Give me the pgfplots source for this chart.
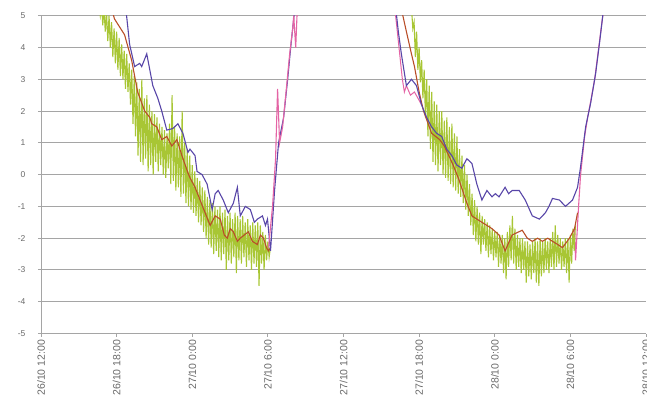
\documentclass[border=0pt]{standalone}
\usepackage{pgfplots}
\pgfplotsset{compat=1.18}
\usepackage{fontspec}
\setmainfont{Liberation Sans}
\definecolor{cblue}{RGB}{88,70,168}
\definecolor{cred}{RGB}{185,78,40}
\definecolor{cgreen}{RGB}{168,198,52}
\definecolor{cpink}{RGB}{228,100,165}
\definecolor{cgrid}{RGB}{165,165,165}
\definecolor{ctext}{RGB}{105,105,105}
\begin{document}
\begin{tikzpicture}
\begin{axis}[
  at={(0,0)}, anchor=south west, scale only axis,
  width=605pt, height=317.8pt,
  xmin=0, xmax=48, ymin=-5, ymax=5,
  axis x line*=bottom, axis y line*=left,
  axis line style={cgrid, line width=0.9pt},
  xtick={0,6,...,48},
  xticklabels={26/10 12:00, 26/10 18:00, 27/10 0:00, 27/10 6:00, 27/10 12:00, 27/10 18:00, 28/10 0:00, 28/10 6:00, 28/10 12:00},
  ytick={-5,-4,...,5},
  yticklabels={-5,-4,-3,-2,-1,0,1,2,3,4,5},
  ymajorgrids, grid style={cgrid, line width=0.9pt},
  tick align=outside,
  major tick length=3pt,
  tick style={cgrid, line width=0.9pt},
  xticklabel style={rotate=90, anchor=east, font=\fontsize{10.5}{12}\selectfont, text=ctext},
  every y tick label/.append style={anchor=east, xshift=-9pt, font=\fontsize{8.5}{10}\selectfont, text=ctext},
]
% pink segments (under)
\addplot[cpink, line width=1pt] coordinates {(27.96,5.6) (28.19,4.8) (28.35,4.2) (28.51,3.6) (28.67,3.0) (28.83,2.6) (28.99,2.8) (29.31,2.5) (29.63,2.6) (30.19,2.2)};
\addplot[cpink, line width=1.1pt] coordinates {(42.17,-1.8) (42.33,-1.7) (42.41,-2.7) (42.65,-1.0) (42.81,0.0) (43.13,1.2) (43.37,1.8) (43.61,2.3) (43.93,3.0) (44.25,4.0) (44.57,5.0) (44.81,5.6)};
% green ep1
\addplot[cgreen, line width=1.1pt] coordinates {
(4.6,5.3)(4.7,5.0)(4.8,5.4)(4.9,4.7)(5.0,5.2)(5.1,4.5)(5.2,5.1)(5.3,4.2)(5.4,5.0)(5.5,4.0)
(5.6,4.8)(5.7,3.7)(5.8,4.6)(5.9,3.5)(6.0,4.5)(6.1,3.3)(6.2,4.3)(6.3,3.1)(6.4,4.1)(6.5,3.0)
(6.6,3.9)(6.7,2.7)(6.8,3.8)(6.9,2.6)(7.0,3.5)(7.1,2.2)(7.2,3.3)(7.3,1.6)(7.4,3.1)(7.5,1.2)
(7.6,2.9)(7.7,0.6)(7.8,2.7)(7.9,0.4)(8.0,3.0)(8.1,0.3)(8.2,2.4)(8.3,0.5)(8.4,2.5)(8.5,0.1)
(8.6,2.2)(8.7,0.3)(8.8,2.0)(8.9,0.0)(9.0,1.9)(9.1,0.4)(9.2,1.8)(9.3,0.1)(9.4,1.6)(9.5,0.3)
(9.6,1.5)(9.7,0.0)(9.8,1.4)(9.9,-0.1)(10.0,1.3)(10.1,0.2)(10.2,1.6)(10.3,-0.3)(10.4,2.5)(10.5,-0.2)
(10.6,1.5)(10.7,-0.5)(10.8,1.3)(10.9,-0.4)(11.0,1.2)(11.1,-0.7)(11.2,2.0)(11.3,-0.6)(11.4,1.0)(11.5,-0.9)
(11.6,0.8)(11.7,-1.0)(11.8,0.6)(11.9,-1.1)(12.0,0.3)(12.1,-1.2)(12.2,0.1)(12.3,-1.3)(12.4,-0.1)(12.5,-1.5)
(12.6,-0.2)(12.7,-1.6)(12.8,-0.4)(12.9,-1.8)(13.0,-0.5)(13.1,-2.0)(13.2,-0.7)(13.3,-2.2)(13.4,-0.8)(13.5,-2.3)
(13.6,-0.9)(13.7,-2.5)(13.8,-1.0)(13.9,-2.4)(14.0,-1.1)(14.1,-2.6)(14.2,-1.0)(14.3,-2.7)(14.4,-1.2)(14.5,-2.5)
(14.6,-1.1)(14.7,-3.0)(14.8,-1.3)(14.9,-2.7)(15.0,-1.2)(15.1,-2.8)(15.2,-1.4)(15.3,-2.6)(15.4,-1.2)(15.5,-3.1)
(15.6,-1.3)(15.7,-2.7)(15.8,-1.4)(15.9,-2.8)(16.0,-1.3)(16.1,-2.6)(16.2,-1.5)(16.3,-2.9)(16.4,-1.4)(16.5,-2.7)
(16.6,-1.6)(16.7,-3.0)(16.8,-1.5)(16.9,-2.8)(17.0,-1.6)(17.1,-2.9)(17.2,-1.5)(17.3,-3.5)(17.4,-1.6)(17.5,-2.8)
(17.6,-1.8)(17.7,-3.0)(17.8,-1.9)(17.9,-2.7)(18.0,-2.1)(18.1,-2.6)(18.2,-2.3)};
% green ep2
\addplot[cgreen, line width=1.1pt] coordinates {
(29.4,5.2)(29.5,4.6)(29.6,4.8)(29.7,3.7)(29.8,4.5)(29.9,3.3)(30.0,4.0)(30.1,2.9)(30.2,3.6)(30.3,2.4)
(30.4,3.3)(30.5,1.8)(30.6,3.0)(30.7,1.2)(30.8,2.8)(30.9,0.8)(31.0,2.6)(31.1,0.4)(31.2,2.3)(31.3,0.3)
(31.4,2.2)(31.5,0.1)(31.6,2.0)(31.7,0.3)(31.8,2.0)(31.9,0.0)(32.0,1.7)(32.1,-0.1)(32.2,1.8)(32.3,-0.2)
(32.4,1.5)(32.5,-0.3)(32.6,1.6)(32.7,-0.4)(32.8,1.3)(32.9,-0.5)(33.0,1.2)(33.1,-0.6)(33.2,0.8)(33.3,-0.7)
(33.4,0.6)(33.5,-0.9)(33.6,0.3)(33.7,-1.1)(33.8,0.0)(33.9,-1.3)(34.0,-0.3)(34.1,-1.6)(34.2,-0.6)(34.3,-1.9)
(34.4,-0.8)(34.5,-2.1)(34.6,-1.0)(34.7,-2.2)(34.8,-1.2)(34.9,-2.5)(35.0,-1.3)(35.1,-2.2)(35.2,-1.4)(35.3,-2.4)
(35.4,-1.5)(35.5,-2.6)(35.6,-1.6)(35.7,-2.5)(35.8,-1.7)(35.9,-2.7)(36.0,-1.8)(36.1,-2.6)(36.2,-1.8)(36.3,-2.9)
(36.4,-1.9)(36.5,-2.8)(36.6,-1.9)(36.7,-3.1)(36.8,-2.0)(36.9,-3.3)(37.0,-1.8)(37.1,-2.9)(37.2,-1.6)(37.3,-2.7)
(37.4,-1.3)(37.5,-2.8)(37.6,-1.7)(37.7,-3.0)(37.8,-1.9)(37.9,-2.9)(38.0,-2.0)(38.1,-3.1)(38.2,-2.0)(38.3,-3.0)
(38.4,-2.1)(38.5,-3.4)(38.6,-2.1)(38.7,-3.2)(38.8,-2.2)(38.9,-3.3)(39.0,-2.1)(39.1,-3.1)(39.2,-2.0)(39.3,-3.4)
(39.4,-2.1)(39.5,-3.5)(39.6,-2.0)(39.7,-3.2)(39.8,-2.1)(39.9,-3.1)(40.0,-2.0)(40.1,-3.0)(40.2,-2.1)(40.3,-3.1)
(40.4,-2.0)(40.5,-2.9)(40.6,-1.8)(40.7,-3.0)(40.8,-1.6)(40.9,-2.9)(41.0,-1.9)(41.1,-2.8)(41.2,-2.0)(41.3,-3.0)
(41.4,-2.1)(41.5,-2.9)(41.6,-2.0)(41.7,-3.1)(41.8,-2.0)(41.9,-3.4)(42.0,-1.9)(42.1,-2.8)(42.2,-1.7)(42.3,-2.4)
(42.4,-1.6)};
% red
\addplot[cred, line width=1.1pt] coordinates {(5.4,5.5) (5.83,4.9) (6.63,4.4) (7.19,3.6) (7.67,2.6) (8.23,2.0) (8.63,1.8) (8.79,1.6) (9.19,1.5) (9.58,1.1) (9.98,1.2) (10.38,0.9) (10.78,1.1) (11.18,0.6) (11.66,0.05) (11.82,-0.1) (12.22,-0.4) (12.62,-0.8) (13.02,-1.2) (13.42,-1.6) (13.82,-1.3) (14.22,-1.4) (14.54,-1.9) (14.78,-2.0) (15.02,-1.7) (15.26,-1.8) (15.58,-2.1) (15.81,-2.0) (16.13,-1.9) (16.45,-1.8) (16.77,-2.1) (17.17,-2.2) (17.41,-1.9) (17.65,-2.0) (17.89,-2.3) (18.05,-2.4) (18.21,-2.3)};
\addplot[cred, line width=1.1pt] coordinates {(28.43,5.5) (28.99,4.5) (29.39,3.8) (29.63,3.4) (30.0,2.6) (30.35,2.0) (30.99,1.3) (31.63,1.1) (32.0,0.9) (32.35,0.6) (32.7,0.3) (33.15,-0.15) (33.79,-0.9) (34.19,-1.3) (34.58,-1.4) (34.98,-1.5) (35.38,-1.6) (35.78,-1.7) (36.34,-1.9) (36.82,-2.4) (37.38,-1.9) (38.18,-1.75) (38.58,-2.0) (38.98,-2.1) (39.4,-2.0) (39.78,-2.1) (40.2,-2.0) (40.58,-2.1) (41.0,-2.2) (41.37,-2.3) (41.93,-2.0) (42.33,-1.7) (42.57,-1.2)};
% blue
\addplot[cblue, line width=1.1pt] coordinates {(6.4,5.8) (6.79,5.0) (7.03,4.1) (7.43,3.4) (7.83,3.5) (7.99,3.4) (8.39,3.8) (8.63,3.3) (8.87,2.8) (9.27,2.4) (9.58,2.0) (9.98,1.4) (10.46,1.45) (10.86,1.6) (11.26,1.3) (11.66,0.7) (11.82,0.8) (12.22,0.6) (12.38,0.1) (12.78,0.0) (13.18,-0.3) (13.58,-1.1) (13.82,-0.6) (14.06,-0.5) (14.46,-0.8) (14.86,-1.2) (15.26,-0.9) (15.58,-0.4) (15.81,-1.3) (16.21,-1.0) (16.61,-1.1) (16.93,-1.5) (17.17,-1.4) (17.57,-1.3) (17.81,-1.6) (17.97,-1.4) (18.21,-2.4) (18.53,-0.5) (18.85,1.0) (19.25,1.8) (19.57,3.0) (19.81,4.0) (20.13,5.2) (20.3,5.8)};
\addplot[cblue, line width=1.1pt] coordinates {(28.04,5.6) (28.35,4.5) (28.59,3.8) (28.83,3.2) (28.99,2.8) (29.39,3.0) (29.79,2.8) (30.19,2.2) (30.59,1.8) (30.99,1.5) (31.39,1.3) (31.79,1.2) (32.19,0.8) (32.59,0.6) (32.99,0.3) (33.39,0.2) (33.79,0.5) (34.19,0.35) (34.58,-0.3) (34.98,-0.8) (35.38,-0.5) (35.78,-0.7) (36.05,-0.6) (36.34,-0.7) (36.82,-0.4) (37.1,-0.6) (37.38,-0.5) (37.94,-0.5) (38.42,-0.8) (38.98,-1.3) (39.54,-1.4) (40.02,-1.2) (40.3,-1.0) (40.58,-0.75) (41.13,-0.8) (41.61,-1.0) (42.17,-0.8) (42.57,-0.4) (42.81,0.25) (43.21,1.5) (43.61,2.25) (44.01,3.2) (44.33,4.2) (44.57,5.0) (44.73,5.6)};
% pink rise ep1 (on top)
\addplot[cpink, line width=1.1pt] coordinates {(18.05,-2.3) (18.37,-1.0) (18.61,0.5) (18.77,2.7) (18.93,1.0) (19.17,1.5) (19.49,2.8) (19.73,3.8) (19.97,4.6) (20.05,5.0) (20.21,4.0) (20.37,5.6)};
\end{axis}
\pgfresetboundingbox
\path (-41pt,-68.5pt) rectangle (606pt,333.5pt);
\end{tikzpicture}
\end{document}
